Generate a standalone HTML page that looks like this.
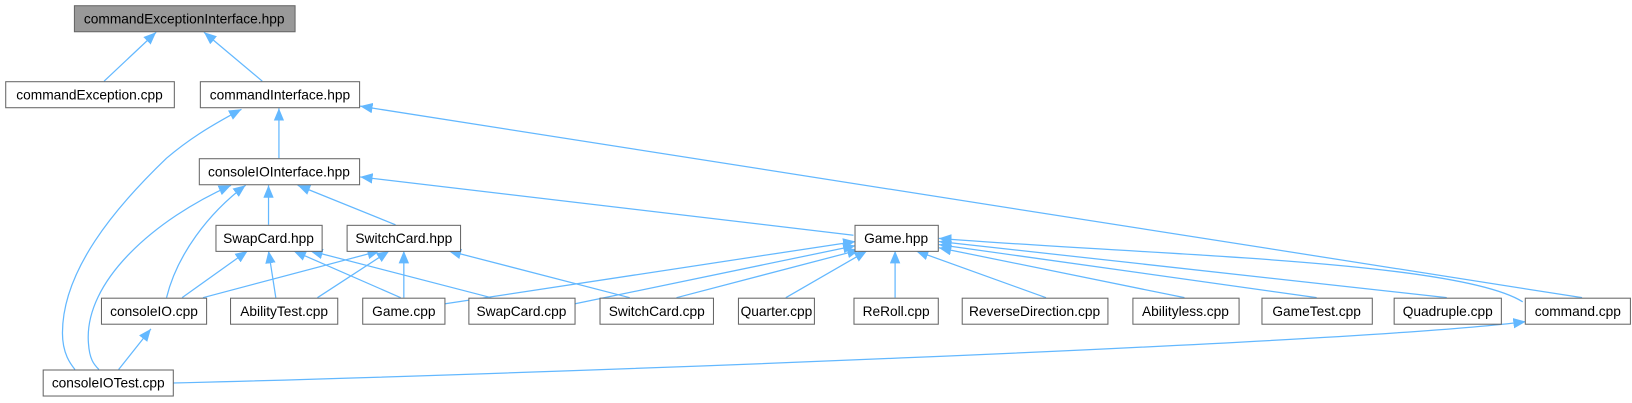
<!DOCTYPE html>
<html><head><meta charset="utf-8"><style>
body{margin:0;background:#fff;width:1632px;height:403px;overflow:hidden}
svg{display:block}
text{font-family:"Liberation Sans",Arial,sans-serif;font-size:13.2px;fill:#000}
</style></head><body>
<svg width="1632" height="403" viewBox="0 0 1632 403">
<defs>
<marker id="a" markerWidth="12" markerHeight="10" refX="0" refY="5" orient="auto" markerUnits="userSpaceOnUse">
<path d="M0,5 L12,0 L12,10 Z" fill="#63b8ff"/>
</marker>
</defs>
<g transform="scale(1.0408)">
<g fill="none" stroke="#63b8ff" stroke-width="1.2" marker-start="url(#a)">
<path d="M150,31 L100,78"/>
<path d="M196,31 L252,78"/>
<path d="M268,104 L268,152"/>
<path d="M232,105 C200,122 180,135 160,152 C110,200 60,260 60,320 C60,340 68,350 72,355"/>
<path d="M346,102 L1520,286"/>
<path d="M346,170 L820,226"/>
<path d="M258,178 L258,216"/>
<path d="M286,178 L380,216"/>
<path d="M236,178 C200,205 170,245 160,286"/>
<path d="M222,178 C150,210 80,270 85,330 C86,345 90,350 95,355"/>
<path d="M238,241 L175,286"/>
<path d="M258,241 L265,286"/>
<path d="M282,241 L385,286"/>
<path d="M298,241 L472,286"/>
<path d="M365,241 L195,286"/>
<path d="M374,241 L305,286"/>
<path d="M388,241 L388,286"/>
<path d="M431,241 L605,286"/>
<path d="M822,232 L427,292"/>
<path d="M822,236 L552,292"/>
<path d="M826,240 L650,286"/>
<path d="M833,241 L755,286"/>
<path d="M860,241 L860,286"/>
<path d="M880,241 L1005,286"/>
<path d="M902,238 L1138,286"/>
<path d="M902,235 L1265,286"/>
<path d="M902,232 L1390,286"/>
<path d="M902,229 C1100,245 1400,250 1463,290"/>
<path d="M145,316 L114,355"/>
<path d="M1466,309 C1300,330 500,360 166,368"/>
</g>
<g stroke="#666" stroke-width="1">
<rect x="71.5" y="5.5" width="212" height="25" fill="#999"/>
<rect x="5.5" y="78.5" width="162" height="25" fill="#fff"/>
<rect x="192.5" y="78.5" width="153" height="25" fill="#fff"/>
<rect x="191.5" y="152.5" width="154" height="25" fill="#fff"/>
<rect x="207.5" y="216.5" width="102" height="25" fill="#fff"/>
<rect x="333.5" y="216.5" width="109" height="25" fill="#fff"/>
<rect x="821.5" y="216.5" width="80" height="25" fill="#fff"/>
<rect x="97.5" y="286.5" width="101" height="25" fill="#fff"/>
<rect x="221.5" y="286.5" width="103" height="25" fill="#fff"/>
<rect x="348.5" y="286.5" width="79" height="25" fill="#fff"/>
<rect x="450.5" y="286.5" width="102" height="25" fill="#fff"/>
<rect x="576.5" y="286.5" width="109" height="25" fill="#fff"/>
<rect x="709.5" y="286.5" width="73" height="25" fill="#fff"/>
<rect x="820.5" y="286.5" width="81" height="25" fill="#fff"/>
<rect x="924.5" y="286.5" width="140" height="25" fill="#fff"/>
<rect x="1088.5" y="286.5" width="102" height="25" fill="#fff"/>
<rect x="1212.5" y="286.5" width="106" height="25" fill="#fff"/>
<rect x="1339.5" y="286.5" width="103" height="25" fill="#fff"/>
<rect x="1465.5" y="286.5" width="101" height="25" fill="#fff"/>
<rect x="41.5" y="355.5" width="125" height="25" fill="#fff"/>
</g>
<g text-anchor="middle">
<text x="177" y="22.5">commandExceptionInterface.hpp</text>
<text x="86" y="95.5">commandException.cpp</text>
<text x="269" y="95.5">commandInterface.hpp</text>
<text x="268" y="169.5">consoleIOInterface.hpp</text>
<text x="258" y="233.5">SwapCard.hpp</text>
<text x="388" y="233.5">SwitchCard.hpp</text>
<text x="861" y="233.5">Game.hpp</text>
<text x="148" y="303.5">consoleIO.cpp</text>
<text x="273" y="303.5">AbilityTest.cpp</text>
<text x="388" y="303.5">Game.cpp</text>
<text x="501" y="303.5">SwapCard.cpp</text>
<text x="631" y="303.5">SwitchCard.cpp</text>
<text x="746" y="303.5">Quarter.cpp</text>
<text x="861" y="303.5">ReRoll.cpp</text>
<text x="994" y="303.5">ReverseDirection.cpp</text>
<text x="1139" y="303.5">Abilityless.cpp</text>
<text x="1265" y="303.5">GameTest.cpp</text>
<text x="1391" y="303.5">Quadruple.cpp</text>
<text x="1516" y="303.5">command.cpp</text>
<text x="104" y="372.5">consoleIOTest.cpp</text>
</g>
</g>
</svg>
</body></html>
